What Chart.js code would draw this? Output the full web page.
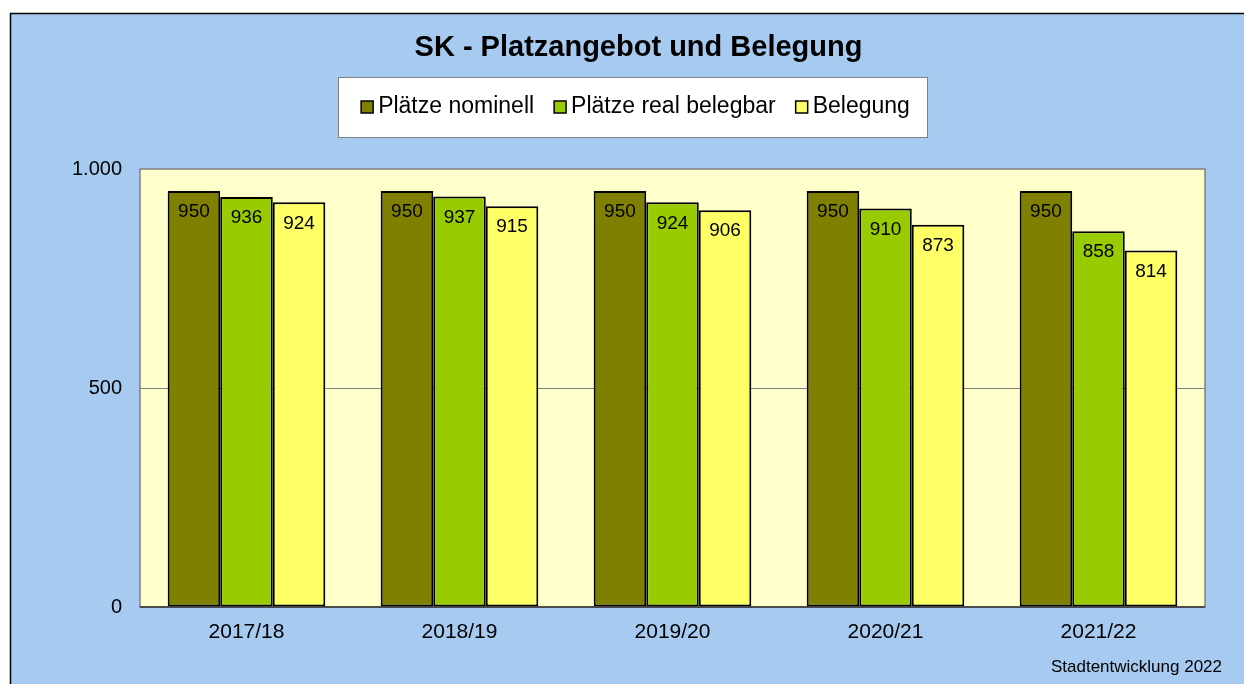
<!DOCTYPE html>
<html>
<head>
<meta charset="utf-8">
<script src="https://cdn.jsdelivr.net/npm/chart.js@4.4.1/dist/chart.umd.min.js"></script>
<style>
  html, body { margin: 0; padding: 0; background: #ffffff; }
  canvas { display: block; }
</style>
</head>
<body>
<canvas id="platzChart" width="1244" height="684"></canvas>
<script>
const years = ['2017/18', '2018/19', '2019/20', '2020/21', '2021/22'];
const plaetzeNominell = [950, 950, 950, 950, 950];
const plaetzeReal = [936, 937, 924, 910, 858];
const belegung = [924, 915, 906, 873, 814];
const yTicks = [0, 500, 1000];

const FONT = 'Arial, "Liberation Sans", sans-serif';

// background frame, plot area fill, legend box, bar labels
const decor = {
    id: 'decor',
    beforeDraw(chart) {
        const ctx = chart.ctx;
        const a = chart.chartArea;
        ctx.save();
        ctx.fillStyle = '#A6CAF0';
        ctx.fillRect(10, 13, 1300, 700);
        ctx.strokeStyle = '#000000';
        ctx.lineWidth = 1.5;
        ctx.strokeRect(10.5, 13.5, 1300, 700);
        ctx.fillStyle = '#FFFFCC';
        ctx.fillRect(a.left, a.top, a.right - a.left, a.bottom - a.top);

        // legend
        ctx.font = '23px ' + FONT;
        const items = chart.data.datasets.map(ds => ({
            text: ds.label, color: ds.backgroundColor, w: ctx.measureText(ds.label).width
        }));
        const sq = 12, gapText = 5, gapItem = 20;
        let total = 0;
        items.forEach((it, i) => { total += sq + gapText + it.w + (i < items.length - 1 ? gapItem : 0); });
        let x = 635.5 - total / 2;
        const cy = 107;
        const boxL = Math.round(x - 23), boxR = Math.round(x + total + 17);
        ctx.fillStyle = '#ffffff';
        ctx.fillRect(boxL, 77, boxR - boxL, 60);
        ctx.strokeStyle = '#808080';
        ctx.lineWidth = 1;
        ctx.strokeRect(boxL + 0.5, 77.5, boxR - boxL, 60);
        ctx.textAlign = 'left';
        ctx.textBaseline = 'middle';
        items.forEach(it => {
            ctx.fillStyle = it.color;
            ctx.fillRect(x, cy - 6, sq, sq);
            ctx.strokeStyle = '#000000';
            ctx.lineWidth = 1.5;
            ctx.strokeRect(x, cy - 6, sq, sq);
            ctx.fillStyle = '#000000';
            ctx.fillText(it.text, x + sq + gapText, cy);
            x += sq + gapText + it.w + gapItem;
        });

        ctx.fillStyle = '#000000';
        ctx.font = '17px ' + FONT;
        ctx.textAlign = 'right';
        ctx.textBaseline = 'middle';
        ctx.fillText('Stadtentwicklung 2022', 1222, 667);
        ctx.restore();
    },
    beforeDatasetsDraw(chart) {
        const ctx = chart.ctx;
        const a = chart.chartArea;
        ctx.save();
        ctx.strokeStyle = '#808080';
        ctx.lineWidth = 1.5;
        ctx.strokeRect(a.left, a.top, a.right - a.left, a.bottom - a.top);
        ctx.restore();
    },
    afterDatasetsDraw(chart) {
        const ctx = chart.ctx;
        const a = chart.chartArea;
        ctx.save();
        ctx.strokeStyle = '#333333';
        ctx.lineWidth = 1.5;
        ctx.beginPath();
        ctx.moveTo(a.left, a.bottom);
        ctx.lineTo(a.right, a.bottom);
        ctx.stroke();

        ctx.fillStyle = '#000000';
        ctx.font = '19px ' + FONT;
        ctx.textAlign = 'center';
        ctx.textBaseline = 'middle';
        chart.data.datasets.forEach((ds, i) => {
            chart.getDatasetMeta(i).data.forEach((bar, j) => {
                ctx.fillText(String(ds.data[j]), bar.x, bar.y + 21);
            });
        });
        ctx.restore();
    }
};

const chart = new Chart(
    document.getElementById('platzChart'),
    {
        type: 'bar',
        data: {
            labels: years,
            datasets: [
                {
                    label: 'Plätze nominell',
                    data: plaetzeNominell,
                    backgroundColor: '#808000'
                },
                {
                    label: 'Plätze real belegbar',
                    data: plaetzeReal,
                    backgroundColor: '#99CC00'
                },
                {
                    label: 'Belegung',
                    data: belegung,
                    backgroundColor: '#FFFF66'
                }
            ]
        },
        options: {
            responsive: false,
            animation: false,
            devicePixelRatio: 1,
            layout: { padding: { left: 72, right: 39, top: 0, bottom: 37 } },
            datasets: {
                bar: {
                    borderColor: '#000000',
                    borderWidth: 2,
                    borderSkipped: false,
                    categoryPercentage: 0.74,
                    barPercentage: 1
                }
            },
            plugins: {
                title: {
                    display: true,
                    text: 'SK - Platzangebot und Belegung',
                    color: '#000000',
                    font: { family: FONT, size: 29, weight: 'bold', lineHeight: 1.2 },
                    padding: { top: 31, bottom: 103.2 }
                },
                legend: { display: false },
                tooltip: { enabled: false }
            },
            scales: {
                x: {
                    grid: { display: false },
                    border: { display: false },
                    afterFit(axis) { axis.height = 40; },
                    ticks: {
                        color: '#000000',
                        font: { family: FONT, size: 21 },
                        padding: 5,
                        maxRotation: 0
                    }
                },
                y: {
                    min: 0,
                    max: 1000,
                    afterBuildTicks(axis) {
                        axis.ticks = yTicks.map(v => ({ value: v }));
                    },
                    afterFit(axis) { axis.width = 68; },
                    grid: {
                        drawTicks: false,
                        color: ctx => ctx.tick && ctx.tick.value === 500 ? '#808080' : 'rgba(0,0,0,0)',
                        lineWidth: 1
                    },
                    border: { display: false },
                    ticks: {
                        color: '#000000',
                        font: { family: FONT, size: 20 },
                        padding: 18,
                        callback: v => v.toLocaleString('de-DE')
                    }
                }
            }
        },
        plugins: [decor]
    }
);
</script>
</body>
</html>
